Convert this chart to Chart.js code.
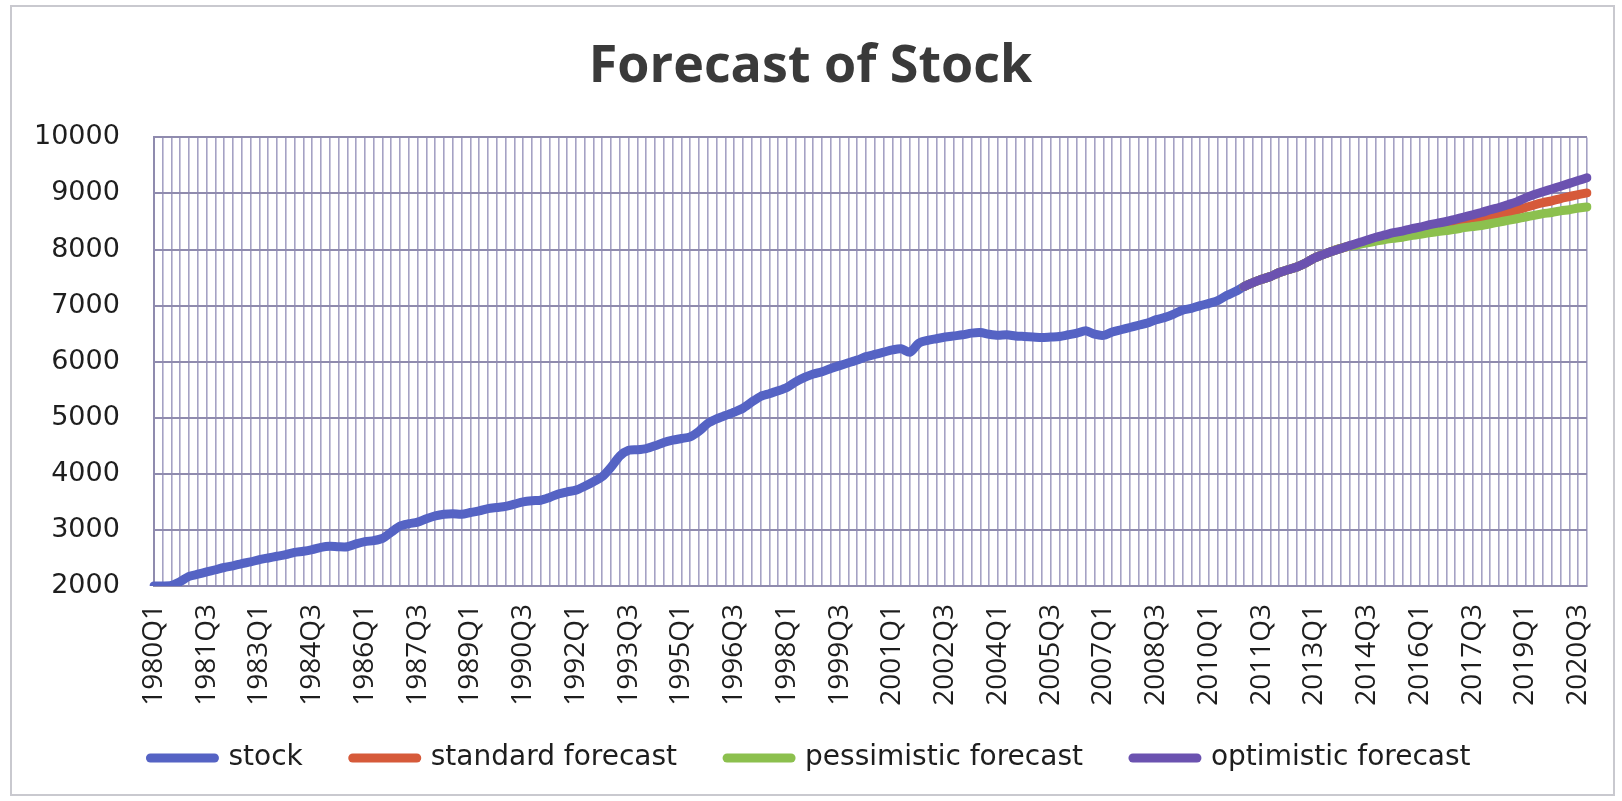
<!DOCTYPE html>
<html>
<head>
<meta charset="utf-8">
<title>Forecast of Stock</title>
<script src="https://cdn.jsdelivr.net/npm/chart.js@4.4.1/dist/chart.umd.min.js"></script>
<style>
  html, body { margin: 0; padding: 0; background: #fff; }
  #wrap { position: relative; width: 1622px; height: 801px; }
  #frame {
    position: absolute; left: 10px; top: 5px; width: 1605px; height: 791px;
    border: 2px solid #c9c9cf; pointer-events: none; box-sizing: border-box;
  }
</style>
</head>
<body>
<div id="wrap">
  <canvas id="stockChart" width="1622" height="801"></canvas>
  <div id="frame"></div>
</div>
<script>
// Quarters 1980Q1 .. 2020Q4
const years = [];
for (let y = 1980; y <= 2020; y++) years.push(y);
const quarters = [];
years.forEach(y => { for (let q = 1; q <= 4; q++) quarters.push(y + 'Q' + q); });

const stock = [
  2000, 2000, 2010, 2080, 2170, 2210, 2250, 2290, 2330, 2360,
  2400, 2430, 2470, 2500, 2530, 2560, 2600, 2620, 2650, 2690,
  2710, 2700, 2700, 2750, 2790, 2810, 2850, 2960, 3070, 3110,
  3140, 3200, 3250, 3280, 3290, 3280, 3310, 3340, 3380, 3400,
  3420, 3460, 3500, 3520, 3530, 3580, 3640, 3680, 3710, 3780,
  3860, 3950, 4120, 4320, 4420, 4430, 4450, 4500, 4560, 4600,
  4630, 4660, 4760, 4900, 4980, 5040, 5100, 5170, 5280, 5380,
  5430, 5480, 5540, 5640, 5720, 5780, 5820, 5880, 5930, 5980,
  6030, 6090, 6130, 6170, 6210, 6230, 6170, 6330, 6380, 6410,
  6440, 6460, 6480, 6510, 6520, 6490, 6470, 6480, 6460, 6450,
  6440, 6430, 6440, 6450, 6480, 6510, 6550, 6490, 6470, 6530,
  6570, 6610, 6650, 6690, 6750, 6790, 6850, 6920, 6950, 7000,
  7040, 7090, 7180, 7250, 7340, 7410, 7470, 7520, 7590, 7640,
  7690, 7760, 7850, 7910, 7970, 8020
];

// Forecast series start at 2011Q1
const forecastStart = '2011Q1';
const standardForecast = [
  7340, 7410, 7470, 7520, 7590, 7640, 7690, 7760, 7850, 7910, 7970, 8020,
  8065, 8105, 8145, 8185, 8220, 8250, 8275, 8310, 8335, 8370,
  8395, 8420, 8450, 8485, 8515, 8545, 8585, 8620, 8660, 8700,
  8750, 8795, 8835, 8870, 8910, 8945, 8980, 9010
];
const pessimisticForecast = [
  7340, 7410, 7470, 7520, 7590, 7640, 7690, 7760, 7850, 7910, 7970, 8020,
  8060, 8090, 8120, 8150, 8180, 8200, 8220, 8250, 8270, 8300,
  8320, 8340, 8360, 8390, 8410, 8430, 8460, 8490, 8520, 8550,
  8580, 8610, 8640, 8660, 8690, 8710, 8740, 8760
];
const optimisticForecast = [
  7340, 7410, 7470, 7520, 7590, 7640, 7690, 7760, 7850, 7910, 7970, 8020,
  8070, 8120, 8170, 8220, 8260, 8300, 8330, 8370, 8400, 8440,
  8470, 8500, 8540, 8580, 8620, 8660, 8710, 8750, 8800, 8850,
  8920, 8980, 9030, 9080, 9130, 9180, 9230, 9280
];

const yTicks = [2000, 3000, 4000, 5000, 6000, 7000, 8000, 9000, 10000];

const lead = quarters.indexOf(forecastStart);
const padded = arr => Array(lead).fill(null).concat(arr);

function lineSet(label, data, color, order) {
  return {
    label: label,
    data: data,
    borderColor: color,
    backgroundColor: color,
    borderWidth: 9,
    borderCapStyle: 'round',
    borderJoinStyle: 'round',
    pointRadius: 0,
    pointHoverRadius: 0,
    tension: 0.25,
    order: order
  };
}

// pull the legend row up a little, closer to the tick labels
const legendShift = {
  id: 'legendShift',
  afterLayout(chart) {
    chart.legend.top -= 12;
    chart.legend.bottom -= 12;
  }
};

Chart.defaults.devicePixelRatio = 1;

const ctx = document.getElementById('stockChart').getContext('2d');
const stockChart = new Chart(ctx, {
  type: 'line',
  data: {
    labels: quarters,
    datasets: [
      lineSet('stock', stock, '#5563c4', 4),
      lineSet('standard forecast', padded(standardForecast), '#d65a3a', 3),
      lineSet('pessimistic forecast', padded(pessimisticForecast), '#8cc04e', 2),
      lineSet('optimistic forecast', padded(optimisticForecast), '#6b52b0', 1)
    ]
  },
  plugins: [legendShift],
  options: {
    responsive: false,
    animation: false,
    layout: { padding: { left: 34, right: 35, top: 0, bottom: 7 } },
    plugins: {
      title: {
        display: true,
        text: 'Forecast of Stock',
        color: '#3a3a3a',
        font: { family: 'Open Sans', size: 52, weight: 'bold' },
        padding: { top: 36, bottom: 39 }
      },
      legend: {
        position: 'bottom',
        labels: {
          color: '#1e1e1e',
          font: { family: 'DejaVu Sans', size: 28 },
          usePointStyle: true,
          pointStyle: 'line',
          pointStyleWidth: 64,
          padding: 50,
          sort: (a, b) => a.datasetIndex - b.datasetIndex,
          generateLabels: (chart) => {
            const items = Chart.defaults.plugins.legend.labels.generateLabels(chart);
            items.forEach(item => {
              const ds = chart.data.datasets[item.datasetIndex];
              item.strokeStyle = ds.borderColor;
              item.fillStyle = ds.borderColor;
              item.lineWidth = 9;
              item.lineCap = 'round';
            });
            return items;
          }
        }
      },
      tooltip: { enabled: false }
    },
    scales: {
      x: {
        offset: false,
        grid: { color: '#a5a2c4', lineWidth: 1.6, drawTicks: false },
        border: { color: '#8f8bae', width: 2 },
        afterFit: (scale) => {
          scale.height = 120;
          scale.paddingRight = 0;
        },
        ticks: {
          autoSkip: false,
          minRotation: 90,
          maxRotation: 90,
          padding: 18,
          color: '#1e1e1e',
          font: { family: 'Open Sans', size: 28 },
          callback: function (value, index) {
            return index % 6 === 0 ? quarters[index] : '';
          }
        }
      },
      y: {
        min: yTicks[0],
        max: yTicks[yTicks.length - 1],
        grid: { color: '#8f8bae', lineWidth: 2, drawTicks: false },
        border: { color: '#8f8bae', width: 2 },
        afterBuildTicks: (axis) => { axis.ticks = yTicks.map(v => ({ value: v })); },
        afterFit: (scale) => { scale.width -= 34; },
        ticks: {
          padding: 34,
          color: '#1e1e1e',
          font: { family: 'DejaVu Sans', size: 27 },
          callback: (value) => String(value)
        }
      }
    }
  }
});
</script>
</body>
</html>
